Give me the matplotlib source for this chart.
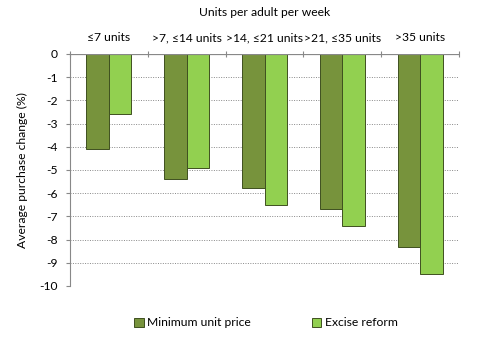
import matplotlib
matplotlib.use("Agg")
import matplotlib.pyplot as plt
import numpy as np
from matplotlib.patches import Patch

categories = ["≤7 units", ">7, ≤14 units", ">14, ≤21 units", ">21, ≤35 units", ">35 units"]
min_unit_price = [-4.1, -5.4, -5.8, -6.7, -8.3]
excise_reform = [-2.6, -4.9, -6.5, -7.4, -9.5]
series_names = ["Minimum unit price", "Excise reform"]
yticks = list(range(0, -11, -1))

plt.rcParams['font.family'] = ['Lato', 'DejaVu Sans']

fig = plt.figure(figsize=(5, 3.5), dpi=100)
ax = fig.add_axes([0.14, 0.183, 0.778, 0.663])

dark = "#77933C"
light = "#92D050"
x = np.arange(len(categories))
w = 0.29
ax.bar(x - w/2, min_unit_price, width=w, color=dark, edgecolor="#3f5020", linewidth=0.7, zorder=3)
ax.bar(x + w/2, excise_reform, width=w, color=light, edgecolor="#3f5020", linewidth=0.7, zorder=3)

ax.set_xlim(-0.5, len(categories) - 0.5)
ax.set_ylim(-10, 0)
ax.set_yticks(yticks)
ax.set_yticklabels([str(v) for v in yticks], fontsize=8.7)
ax.yaxis.grid(True, linestyle=(0, (1, 1.5)), color="#888888", linewidth=0.7, zorder=0)

ax.spines['right'].set_visible(False)
ax.spines['bottom'].set_visible(False)
ax.spines['top'].set_visible(False)
ax.spines['left'].set_color("#888888")
ax.axhline(0, color="#888888", linewidth=0.9, zorder=4)

ax.xaxis.tick_top()
ax.set_xticks(np.arange(len(categories) + 1) - 0.5)
ax.set_xticklabels([])
ax.tick_params(axis='x', direction='inout', length=4, color="#888888")
ax.tick_params(axis='y', direction='out', length=3, color="#888888", pad=6)
for i, c in enumerate(categories):
    ax.text(i, 0.45, c, ha='center', va='bottom', fontsize=8.7,
            transform=ax.transData)

fig.text(0.5 * (0.14 + 0.918), 1 - 13 / 350, "Units per adult per week",
         ha='center', va='center', fontsize=8.7)
ax.set_ylabel("Average purchase change (%)", fontsize=8.7, labelpad=8)

handles = [Patch(facecolor=dark, edgecolor="#3f5020", linewidth=0.7),
           Patch(facecolor=light, edgecolor="#3f5020", linewidth=0.7)]
fig.legend(handles, series_names, loc='center', bbox_to_anchor=(0.532, 1 - 323 / 350),
           ncol=2, frameon=False, fontsize=8.7, columnspacing=5.0,
           handlelength=0.8, handleheight=0.8, handletextpad=0.3)

fig.savefig("out.png", dpi=100)
